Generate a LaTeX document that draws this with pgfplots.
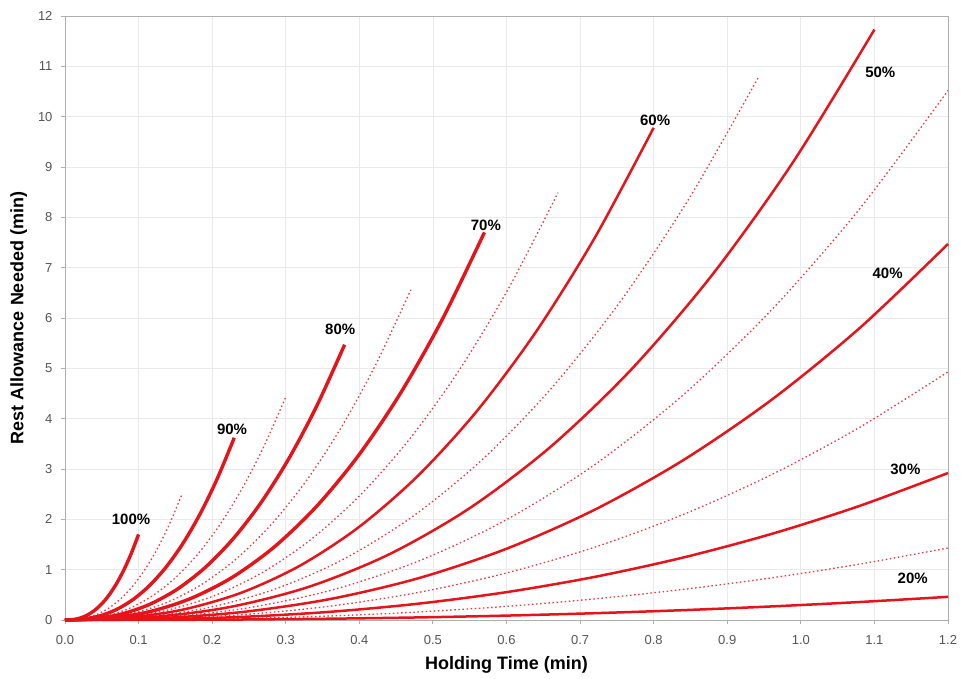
\documentclass[border=0pt]{standalone}
\usepackage{fontspec}
\setmainfont{Liberation Sans}
\usepackage{pgfplots}
\pgfplotsset{compat=1.18}
\definecolor{cred}{RGB}{230,20,26}
\definecolor{dred}{RGB}{228,60,66}
\definecolor{gridc}{RGB}{234,234,234}
\definecolor{axc}{RGB}{175,175,175}
\definecolor{tickc}{RGB}{85,85,85}
\begin{document}
\begin{tikzpicture}
\begin{axis}[
  scale only axis, width=883pt, height=604pt,
  at={(0pt,0pt)}, anchor=south west,
  xmin=0, xmax=1.2, ymin=0, ymax=12,
  xtick={0,0.1,0.2,0.3,0.4,0.5,0.6,0.7,0.8,0.9,1.0,1.1,1.2},
  ytick={0,1,2,3,4,5,6,7,8,9,10,11,12},
  grid=major, major grid style={gridc, line width=0.7pt},
  axis line style={axc, line width=0.9pt},
  tick style={axc, line width=0.9pt},
  tick align=outside, tick pos=left, major tick length=4pt,
  /pgf/number format/assume math mode=true,
  xticklabel style={font=\fontsize{13}{15}\selectfont, text=tickc, yshift=-8pt,
    /pgf/number format/fixed, /pgf/number format/fixed zerofill, /pgf/number format/precision=1},
  yticklabel style={font=\fontsize{13}{15}\selectfont, text=tickc, xshift=-5pt},
  xlabel={Holding Time (min)},
  ylabel={Rest Allowance Needed (min)},
  xlabel style={font=\fontsize{18}{21}\selectfont\bfseries, at={(axis description cs:0.5,-0.0745)}, anchor=center},
  ylabel style={font=\fontsize{18}{21}\selectfont\bfseries, at={(axis description cs:-0.0525,0.5)}, anchor=center},
  clip=false,
]
% dotted curves (intermediate levels)
\pgfplotsset{dotc/.style={dred, line width=1.3pt, dash pattern=on 1.5pt off 2.6pt, smooth}}
\addplot[dotc] coordinates {(0,0) (.0159,.0100) (.0318,.0526) (.0477,.1390) (.0636,.2773) (.0795,.4737) (.0954,.7337) (.1113,1.0622) (.1272,1.4633) (.1431,1.9415) (.159,2.50)};
\addplot[dotc] coordinates {(0,0) (.03,.0176) (.06,.0931) (.09,.2464) (.12,.4914) (.15,.8393) (.18,1.3000) (.21,1.8822) (.24,2.5930) (.27,3.4403) (.30,4.43)};
\addplot[dotc] coordinates {(0,0) (.047,.0261) (.094,.1379) (.141,.3648) (.188,.7276) (.235,1.2429) (.282,1.9251) (.329,2.7871) (.376,3.8397) (.423,5.0944) (.47,6.56)};
\addplot[dotc] coordinates {(0,0) (.067,.0338) (.134,.1785) (.201,.4721) (.268,.9417) (.335,1.6085) (.402,2.4915) (.469,3.6071) (.536,4.9694) (.603,6.5932) (.67,8.49)};
\addplot[dotc] coordinates {(0,0) (.0943,.0430) (.1886,.2270) (.2829,.6006) (.3772,1.1979) (.4715,2.0462) (.5658,3.1694) (.6601,4.5886) (.7544,6.3215) (.8487,8.3872) (.943,10.80)};
\addplot[dotc] coordinates {(0,0) (.12,.0419) (.24,.2211) (.36,.5850) (.48,1.1669) (.60,1.9931) (.72,3.0872) (.84,4.4696) (.96,6.1576) (1.08,8.1697) (1.2,10.52)};
\addplot[dotc] coordinates {(0,0) (.12,.0196) (.24,.1036) (.36,.2742) (.48,.5468) (.60,.9340) (.72,1.4468) (.84,2.0946) (.96,2.8856) (1.08,3.8286) (1.2,4.93)};
\addplot[dotc] coordinates {(0,0) (.12,.0057) (.24,.0301) (.36,.0795) (.48,.1586) (.60,.2709) (.72,.4196) (.84,.6076) (.96,.8370) (1.08,1.1105) (1.2,1.43)};
% solid curves
\addplot[cred, line width=3.4pt, smooth] coordinates {(0,0) (.01,.0068) (.02,.0357) (.03,.0945) (.04,.1886) (.05,.3221) (.06,.4989) (.07,.7223) (.08,.9950) (.09,1.3202) (.10,1.70)};
\addplot[cred, line width=3.4pt, smooth] coordinates {(0,0) (.023,.0144) (.046,.0761) (.069,.2013) (.092,.4015) (.115,.6858) (.138,1.0623) (.161,1.5380) (.184,2.1189) (.207,2.8113) (.23,3.62)};
\addplot[cred, line width=3.4pt, smooth] coordinates {(0,0) (.038,.0218) (.076,.1150) (.114,.3042) (.152,.6067) (.19,1.0363) (.228,1.6052) (.266,2.3240) (.304,3.2017) (.342,4.2479) (.38,5.47)};
\addplot[cred, line width=3.4pt, smooth] coordinates {(0,0) (.057,.0307) (.114,.1619) (.171,.4282) (.228,.8541) (.285,1.4588) (.342,2.2596) (.399,3.2715) (.456,4.5070) (.513,5.9797) (.57,7.70)};
\addplot[cred, line width=2.5pt, smooth] coordinates {(0,0) (.08,.0389) (.16,.2056) (.24,.5439) (.32,1.0848) (.40,1.8529) (.48,2.8700) (.56,4.1552) (.64,5.7244) (.72,7.5950) (.80,9.78)};
\addplot[cred, line width=2.5pt, smooth] coordinates {(0,0) (.11,.0467) (.22,.2466) (.33,.6523) (.44,1.3011) (.55,2.2224) (.66,3.4423) (.77,4.9837) (.88,6.8658) (.99,9.1094) (1.10,11.73)};
\addplot[cred, line width=2.5pt, smooth] coordinates {(0,0) (.12,.0297) (.24,.1570) (.36,.4154) (.48,.8286) (.60,1.4153) (.72,2.1921) (.84,3.1738) (.96,4.3723) (1.08,5.8011) (1.2,7.47)};
\addplot[cred, line width=2.5pt, smooth] coordinates {(0,0) (.12,.0116) (.24,.0614) (.36,.1624) (.48,.3239) (.60,.5532) (.72,.8569) (.84,1.2406) (.96,1.7091) (1.08,2.2676) (1.2,2.92)};
\addplot[cred, line width=2.5pt, smooth] coordinates {(0,0) (.12,.0018) (.24,.0097) (.36,.0256) (.48,.0510) (.60,.0872) (.72,.1350) (.84,.1954) (.96,.2692) (1.08,.3572) (1.2,.46)};
% curve labels
\begin{scope}[every node/.style={font=\fontsize{15}{17}\selectfont\bfseries, text=black}]
\node at (axis cs:0.0897,1.99) {100\%};
\node at (axis cs:0.227,3.78) {90\%};
\node at (axis cs:0.374,5.77) {80\%};
\node at (axis cs:0.572,7.85) {70\%};
\node at (axis cs:0.802,9.92) {60\%};
\node at (axis cs:1.108,10.89) {50\%};
\node at (axis cs:1.118,6.88) {40\%};
\node at (axis cs:1.142,3.0) {30\%};
\node at (axis cs:1.152,0.83) {20\%};
\end{scope}
\end{axis}
\pgfresetboundingbox
\useasboundingbox (-65pt,-59pt) rectangle (896pt,620pt);
\end{tikzpicture}
\end{document}
